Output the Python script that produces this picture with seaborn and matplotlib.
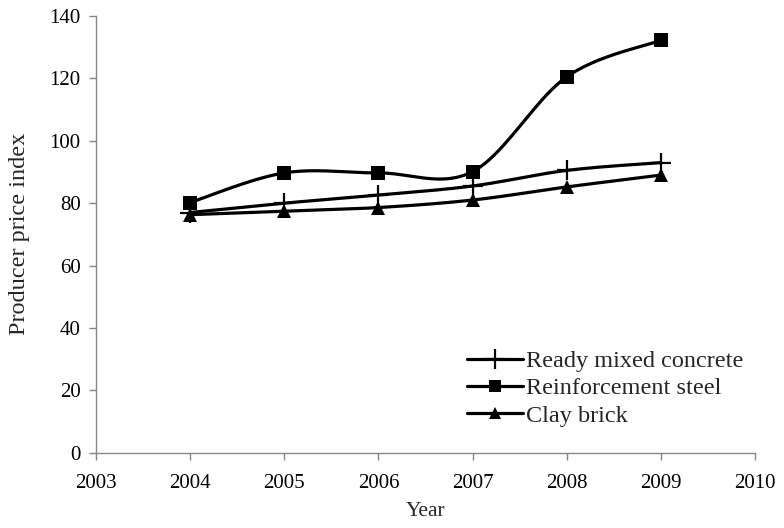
import numpy as np
import pandas as pd
import matplotlib
matplotlib.use("Agg")
import matplotlib.pyplot as plt
from matplotlib.lines import Line2D
import seaborn as sns

years = [2004, 2005, 2006, 2007, 2008, 2009]
concrete = [77.0, 80.0, 82.6, 85.5, 90.5, 93.0]
steel = [80.2, 89.7, 89.7, 90.1, 120.5, 132.2]
brick = [76.3, 77.4, 78.6, 81.0, 85.2, 89.0]

series_names = ["Ready mixed concrete", "Reinforcement steel", "Clay brick"]
series_values = [concrete, steel, brick]
series_markers = ["+", "s", "^"]

x_ticks = [2003, 2004, 2005, 2006, 2007, 2008, 2009, 2010]
y_ticks = [0, 20, 40, 60, 80, 100, 120, 140]

sns.set_theme(style="white")
plt.rcParams["font.family"] = ["Liberation Serif", "DejaVu Serif"]

TICK_FS = 15
XLAB_FS = 15.5
YLAB_FS = 17.5
LEG_FS = 17.5


def smooth_curve(xs, ys, steps=40):
    """Cubic Bezier smoothing through every point (spreadsheet style)."""
    pts = np.column_stack([xs, ys]).astype(float)
    n = len(pts)
    out = [pts[0]]
    for i in range(n - 1):
        p0 = pts[i - 1] if i > 0 else pts[i]
        p1 = pts[i]
        p2 = pts[i + 1]
        p3 = pts[i + 2] if i + 2 < n else pts[i + 1]
        c1 = p1 + (p2 - p0) / 6.0
        c2 = p2 - (p3 - p1) / 6.0
        t = np.linspace(0, 1, steps)[1:, None]
        seg = ((1 - t) ** 3) * p1 + 3 * ((1 - t) ** 2) * t * c1 + 3 * (1 - t) * t ** 2 * c2 + t ** 3 * p2
        out.extend(seg)
    out = np.array(out)
    return out[:, 0], out[:, 1]


fig = plt.figure(figsize=(7.84, 5.28), dpi=100)
ax = fig.add_axes([96 / 784, 1 - 452.7 / 528, (755 - 96) / 784, (452.7 - 16) / 528])

handles = []
for name, vals, mk in zip(series_names, series_values, series_markers):
    sx, sy = smooth_curve(years, vals)
    curve = pd.DataFrame({"x": sx, "y": sy})
    sns.lineplot(data=curve, x="x", y="y", sort=False, estimator=None,
                 color="black", linewidth=2.3, ax=ax)
    pts = pd.DataFrame({"x": years, "y": vals})
    if mk == "+":
        ax.plot(pts["x"], pts["y"], linestyle="none", marker="+", markersize=15,
                markeredgewidth=1.6, color="black")
    else:
        ax.plot(pts["x"], pts["y"], linestyle="none", marker=mk, markersize=10,
                color="black", markeredgewidth=0)
    handles.append(Line2D([], [], color="black", linewidth=2.3, marker=mk,
                          markersize=14 if mk == "+" else 8.5,
                          markeredgewidth=1.6 if mk == "+" else 0))

ax.set_xlim(2003, 2010)
ax.set_ylim(0, 140)
ax.set_xticks(x_ticks)
ax.set_yticks(y_ticks)
ax.set_xticklabels([str(v) for v in x_ticks])
ax.set_yticklabels([str(v) for v in y_ticks])
ax.set_xlabel("Year", fontsize=XLAB_FS, labelpad=7)
ax.set_ylabel("Producer price index", fontsize=YLAB_FS, labelpad=14)

for side in ["top", "right"]:
    ax.spines[side].set_visible(False)
for side in ["left", "bottom"]:
    ax.spines[side].set_color("#868686")
    ax.spines[side].set_linewidth(1.0)
ax.tick_params(axis="both", direction="out", length=5, width=1.0, color="#868686",
               labelsize=TICK_FS, labelcolor="black")
ax.tick_params(axis="x", bottom=True, pad=10)
ax.tick_params(axis="y", left=True, pad=6)
ax.grid(False)

leg = ax.legend(handles, series_names, loc="upper left",
                bbox_to_anchor=(467 / 784, 1 - 350 / 528), bbox_transform=fig.transFigure,
                frameon=False, fontsize=LEG_FS, handlelength=2.3, handletextpad=0.12,
                labelspacing=0.22, borderpad=0, borderaxespad=0)

fig.savefig("out.png", dpi=100, facecolor="white")
